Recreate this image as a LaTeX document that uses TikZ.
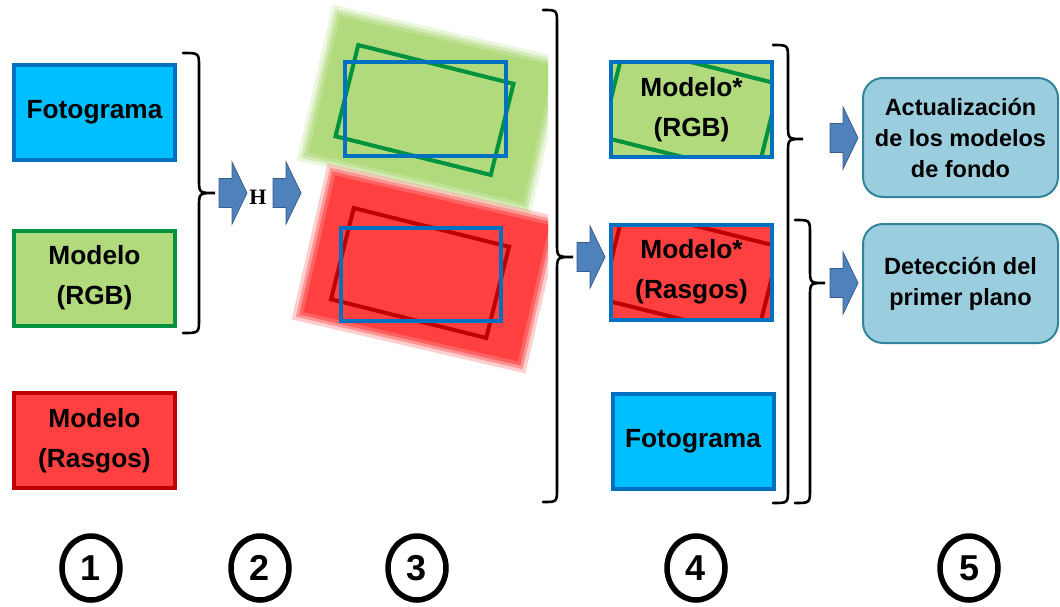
\documentclass[tikz,border=0pt]{standalone}
\usepackage{fontspec}
\setmainfont{Liberation Sans}
\newfontfamily\serifH{Liberation Serif}
\usetikzlibrary{shapes.geometric}
\definecolor{cyanfill}{RGB}{0,191,255}
\definecolor{bblue}{RGB}{0,112,192}
\definecolor{lgreen}{RGB}{176,218,124}
\definecolor{dgreen}{RGB}{0,146,63}
\definecolor{rfill}{RGB}{255,64,64}
\definecolor{dred}{RGB}{192,0,0}
\definecolor{lblue}{RGB}{154,206,222}
\definecolor{tline}{RGB}{49,132,155}
\definecolor{afill}{RGB}{79,129,189}
\definecolor{aline}{RGB}{56,93,138}
% #1 fill colour, #2 line colour, #3 bg centre, #4 inner rect centre
\newcommand\modimg[4]{%
 \begin{scope}[shift={#3},rotate=-13]
  \fill[#1,opacity=0.25] (-120,-80) rectangle (120,80);
  \fill[#1,opacity=0.4] (-116.5,-76.5) rectangle (116.5,76.5);
  \fill[#1,opacity=0.6] (-113.5,-73.5) rectangle (113.5,73.5);
  \fill[#1] (-110,-70) rectangle (110,70);
 \end{scope}
 \begin{scope}[shift={#4},rotate=-14]
  \draw[#2,line width=4pt] (-80,-47) rectangle (80,47);
 \end{scope}}
\newcommand\curly[6]{%
 \draw[bracestyle] (#1,#4) .. controls (#2,#4) .. (#2,#4+14) -- (#2,#5-14) .. controls (#2,#5) .. (#3,#5) .. controls (#2,#5) .. (#2,#5+14) -- (#2,#6-14) .. controls (#2,#6) .. (#1,#6);}
\begin{document}
\begin{tikzpicture}[x=1pt,y=-1pt,
  box/.style={draw, line width=4pt, minimum width=161pt, minimum height=95pt, inner sep=0pt, align=center, font=\fontsize{26.3}{40}\selectfont\bfseries},
  rbox/.style={draw=tline, fill=lblue, line width=2pt, rounded corners=20pt, minimum width=195pt, minimum height=119pt, inner sep=0pt, align=center, font=\fontsize{23.5}{31}\selectfont\bfseries},
  numc/.style={ellipse, draw, line width=5.5pt, minimum width=58pt, minimum height=64pt, inner sep=0pt, font=\fontsize{36}{36}\selectfont\bfseries},
  bracestyle/.style={line width=2.6pt, line cap=round},
  barrow/.pic={\filldraw[fill=afill,draw=aline,line width=0.8pt] (0,-14.5) -- (13,-14.5) -- (13,-31) -- (28,0) -- (13,31) -- (13,14.5) -- (0,14.5) -- cycle;}
]
\useasboundingbox (0,0) rectangle (1060,606);
% column 1
\node[box, draw=bblue, fill=cyanfill] (f1) at (94.5,112.5) {Fotograma};
\node[box, draw=dgreen, fill=lgreen] (m1) at (94.5,278) {Modelo\\(RGB)};
\node[box, draw=dred, fill=rfill] (r1) at (94.5,440.5) {Modelo\\(Rasgos)};
\curly{183}{199}{215}{53}{193}{333}
% column 2
\pic (a1) at (219,193) {barrow};
\node (h) at (258,197) {\serifH\bfseries\fontsize{22}{22}\selectfont H};
\pic (a2) at (273,193) {barrow};
% column 3
\begin{scope}
 \clip (290,0) rectangle (548,380);
 \modimg{lgreen}{dgreen}{(431.5,109.5)}{(424.5,110)}
 \modimg{rfill}{dred}{(426.5,268.5)}{(420,273)}
\end{scope}
\node[draw=bblue, line width=4pt, minimum width=161pt, minimum height=94pt] (b3a) at (425.5,109) {};
\node[draw=bblue, line width=4pt, minimum width=160pt, minimum height=93pt] (b3b) at (421,274.5) {};
\curly{543}{557}{573}{10}{257}{502}
\pic (a3) at (577,257) {barrow};
% column 4
\begin{scope}
 \clip (611,62) rectangle (772,157);
 \modimg{lgreen}{dgreen}{(697.5,110)}{(690.5,110.5)}
\end{scope}
\begin{scope}
 \clip (611,224) rectangle (772,320);
 \modimg{rfill}{dred}{(697.5,272.5)}{(690.5,273)}
\end{scope}
\node[box, draw=bblue] (m4) at (691.5,109.5) {Modelo*\\(RGB)};
\node[box, draw=bblue] (r4) at (691.5,272) {Modelo*\\(Rasgos)};
\node[box, draw=bblue, fill=cyanfill] (f4) at (693,441.5) {Fotograma};
\curly{773}{788}{803}{45}{139}{503}
\curly{795}{810}{825}{220}{283}{503}
\pic (a4) at (830,138) {barrow};
\pic (a5) at (830,283) {barrow};
% column 5
\node[rbox] (u5) at (960.5,137.5) {Actualización\\de los modelos\\de fondo};
\node[rbox] (d5) at (960.5,283.5) {Detección del\\primer plano};
% numbers
\node[numc] (c1) at (91,568) {1};
\node[numc] (c2) at (260,568) {2};
\node[numc] (c3) at (417,568) {3};
\node[numc] (c4) at (696,568) {4};
\node[numc] (c5) at (969,568) {5};
\end{tikzpicture}
\end{document}
